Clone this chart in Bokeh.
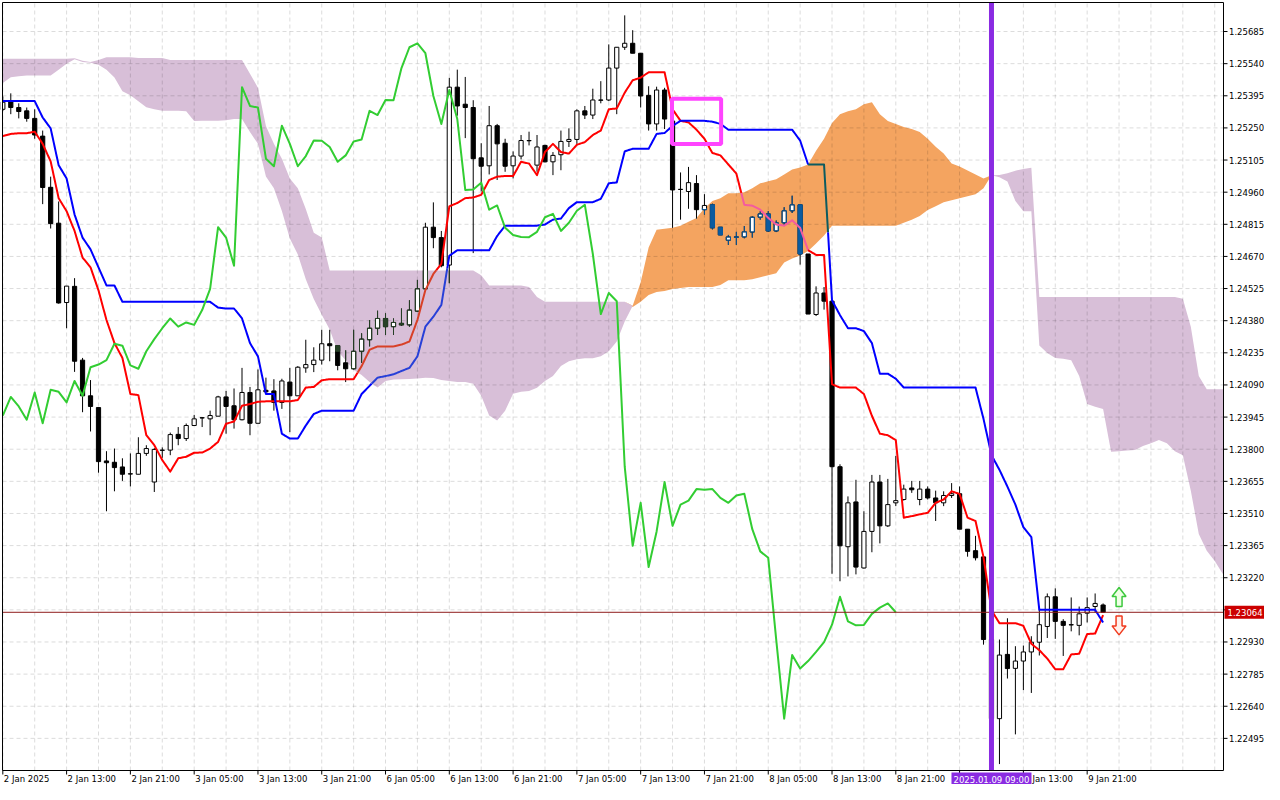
import numpy as np
from bokeh.plotting import figure
from bokeh.models import Range1d, ColumnDataSource
from bokeh.embed import file_html
from bokeh.resources import INLINE
from bokeh.core.properties import value

# ---------------- data (GBPUSD H1, bar index 0 = 2 Jan 2025 05:00) ----------------
OPEN = [1.25334, 1.25367, 1.25342, 1.25327, 1.25293, 1.25213, 1.24982, 1.24820, 1.24462, 1.24535,
        1.24202, 1.24041, 1.23988, 1.23747, 1.23741, 1.23720, 1.23689, 1.23687, 1.23781, 1.23652,
        1.23796, 1.23796, 1.23867, 1.23848, 1.23907, 1.23942, 1.23937, 1.23949, 1.24036, 1.23996,
        1.23933, 1.24056, 1.23917, 1.24066, 1.24063, 1.24011, 1.24103, 1.24041, 1.24167, 1.24182,
        1.24202, 1.24276, 1.24267, 1.24190, 1.24163, 1.24242, 1.24294, 1.24346, 1.24390, 1.24353,
        1.24368, 1.24361, 1.24423, 1.24524, 1.24802, 1.24755, 1.24631, 1.25434, 1.25357, 1.25342,
        1.25115, 1.25079, 1.25260, 1.25181, 1.25079, 1.25123, 1.25193, 1.25082, 1.25171, 1.25097,
        1.25129, 1.25189, 1.25198, 1.25327, 1.25308, 1.25376, 1.25376, 1.25520, 1.25614, 1.25632,
        1.25587, 1.25397, 1.25268, 1.25421, 1.25281, 1.24973, 1.24963, 1.24999, 1.24881, 1.24903,
        1.24802, 1.24743, 1.24758, 1.24758, 1.24780, 1.24847, 1.24862, 1.24785, 1.24822, 1.24876,
        1.24903, 1.24681, 1.24408, 1.24505, 1.24468, 1.23721, 1.23360, 1.23562, 1.23264, 1.23429,
        1.23652, 1.23454, 1.23558, 1.23573, 1.23625, 1.23573, 1.23620, 1.23580, 1.23558, 1.23591,
        1.23599, 1.23439, 1.23342, 1.23314, 1.22941, 1.22584, 1.22874, 1.22811, 1.22844, 1.22885,
        1.22929, 1.23000, 1.23134, 1.23023, 1.23008, 1.23005, 1.23060, 1.23090, 1.23097]
HIGH = [1.25392, 1.25406, 1.25361, 1.25342, 1.25334, 1.25238, 1.25030, 1.24918, 1.24536, 1.24572,
        1.24212, 1.24112, 1.23988, 1.23791, 1.23803, 1.23759, 1.23781, 1.23854, 1.23818, 1.23805,
        1.23808, 1.23875, 1.23900, 1.23916, 1.23955, 1.23944, 1.23974, 1.24041, 1.24063, 1.24074,
        1.24167, 1.24081, 1.24160, 1.24123, 1.24116, 1.24118, 1.24167, 1.24175, 1.24294, 1.24260,
        1.24339, 1.24339, 1.24267, 1.24246, 1.24339, 1.24323, 1.24383, 1.24425, 1.24413, 1.24390,
        1.24435, 1.24472, 1.24564, 1.24822, 1.24914, 1.24785, 1.25476, 1.25513, 1.25480, 1.25375,
        1.25181, 1.25349, 1.25268, 1.25201, 1.25144, 1.25218, 1.25233, 1.25218, 1.25174, 1.25141,
        1.25238, 1.25248, 1.25334, 1.25349, 1.25427, 1.25461, 1.25627, 1.25614, 1.25758, 1.25691,
        1.25587, 1.25438, 1.25436, 1.25431, 1.25290, 1.25049, 1.25074, 1.25037, 1.24951, 1.24908,
        1.24802, 1.24767, 1.24781, 1.24807, 1.24851, 1.24874, 1.24874, 1.24832, 1.24892, 1.24944,
        1.24903, 1.24681, 1.24535, 1.24532, 1.24472, 1.23732, 1.23587, 1.23662, 1.23520, 1.23684,
        1.23684, 1.23666, 1.23770, 1.23640, 1.23657, 1.23657, 1.23632, 1.23613, 1.23610, 1.23647,
        1.23632, 1.23439, 1.23409, 1.23314, 1.22948, 1.22941, 1.23037, 1.22911, 1.22914, 1.22956,
        1.23090, 1.23149, 1.23172, 1.23033, 1.23131, 1.23090, 1.23131, 1.23149, 1.23104]
LOW = [1.25326, 1.25312, 1.25293, 1.25278, 1.25201, 1.24906, 1.24796, 1.24457, 1.24346, 1.24149,
       1.23967, 1.23880, 1.23694, 1.23520, 1.23610, 1.23657, 1.23632, 1.23687, 1.23770, 1.23607,
       1.23761, 1.23773, 1.23818, 1.23837, 1.23907, 1.23900, 1.23863, 1.23949, 1.23870, 1.23893,
       1.23930, 1.23863, 1.23917, 1.24056, 1.23974, 1.23982, 1.23877, 1.24041, 1.24145, 1.24148,
       1.24182, 1.24197, 1.24156, 1.24103, 1.24160, 1.24190, 1.24264, 1.24316, 1.24316, 1.24316,
       1.24356, 1.24353, 1.24420, 1.24520, 1.24707, 1.24621, 1.24549, 1.25305, 1.25204, 1.24685,
       1.24963, 1.25040, 1.25015, 1.25052, 1.25022, 1.25108, 1.25171, 1.25052, 1.25094, 1.25037,
       1.25059, 1.25164, 1.25178, 1.25290, 1.25290, 1.25361, 1.25371, 1.25312, 1.25602, 1.25587,
       1.25342, 1.25238, 1.25238, 1.25245, 1.24799, 1.24836, 1.24885, 1.24841, 1.24859, 1.24792,
       1.24767, 1.24722, 1.24722, 1.24752, 1.24755, 1.24836, 1.24781, 1.24780, 1.24807, 1.24866,
       1.24633, 1.24410, 1.24401, 1.24430, 1.23238, 1.23204, 1.23226, 1.23235, 1.23261, 1.23335,
       1.23375, 1.23449, 1.23543, 1.23568, 1.23603, 1.23547, 1.23573, 1.23476, 1.23543, 1.23580,
       1.23439, 1.23315, 1.23298, 1.22918, 1.22547, 1.22379, 1.22765, 1.22513, 1.22713, 1.22700,
       1.22869, 1.22948, 1.22944, 1.22867, 1.22978, 1.22960, 1.23018, 1.23063, 1.23063]
CLOSE = [1.25366, 1.25342, 1.25324, 1.25293, 1.25218, 1.24981, 1.24818, 1.24460, 1.24536, 1.24197,
         1.24041, 1.23993, 1.23744, 1.23739, 1.23717, 1.23687, 1.23688, 1.23781, 1.23803, 1.23799,
         1.23795, 1.23866, 1.23848, 1.23907, 1.23937, 1.23941, 1.23952, 1.24036, 1.23993, 1.23933,
         1.24056, 1.23917, 1.24068, 1.24059, 1.24011, 1.24108, 1.24041, 1.24170, 1.24182, 1.24202,
         1.24276, 1.24267, 1.24178, 1.24163, 1.24242, 1.24297, 1.24346, 1.24390, 1.24353, 1.24372,
         1.24361, 1.24428, 1.24524, 1.24802, 1.24755, 1.24628, 1.25434, 1.25349, 1.25342, 1.25111,
         1.25077, 1.25260, 1.25178, 1.25077, 1.25123, 1.25193, 1.25192, 1.25164, 1.25097, 1.25126,
         1.25189, 1.25198, 1.25327, 1.25308, 1.25376, 1.25375, 1.25520, 1.25614, 1.25632, 1.25587,
         1.25394, 1.25268, 1.25421, 1.25290, 1.24970, 1.24972, 1.25003, 1.24881, 1.24900, 1.24799,
         1.24767, 1.24758, 1.24757, 1.24781, 1.24847, 1.24862, 1.24785, 1.24822, 1.24876, 1.24903,
         1.24681, 1.24410, 1.24505, 1.24468, 1.23721, 1.23364, 1.23558, 1.23268, 1.23429, 1.23652,
         1.23454, 1.23550, 1.23568, 1.23620, 1.23617, 1.23620, 1.23580, 1.23558, 1.23591, 1.23599,
         1.23439, 1.23339, 1.23310, 1.22941, 1.22584, 1.22871, 1.22810, 1.22844, 1.22885, 1.22929,
         1.23008, 1.23134, 1.23023, 1.23005, 1.23007, 1.23057, 1.23085, 1.23104, 1.23064]

TENKAN = [1.25213, 1.25223, 1.25226, 1.25226, 1.25233, 1.25178, 1.25099, 1.24933, 1.24874, 1.24785,
          1.24665, 1.24621, 1.24517, 1.24383, 1.24279, 1.24212, 1.24049, 1.24044, 1.23863, 1.23818,
          1.23751, 1.23699, 1.23759, 1.23766, 1.23784, 1.23785, 1.23803, 1.23833, 1.23915, 1.23925,
          1.23996, 1.24004, 1.24014, 1.24016, 1.24016, 1.24016, 1.24016, 1.24022, 1.24078, 1.24081,
          1.24111, 1.24116, 1.24116, 1.24116, 1.24116, 1.24175, 1.24249, 1.24264, 1.24264, 1.24264,
          1.24272, 1.24286, 1.24383, 1.24518, 1.24591, 1.24636, 1.24896, 1.24911, 1.24933, 1.24936,
          1.24948, 1.25015, 1.25030, 1.25033, 1.25033, 1.25097, 1.25089, 1.25037, 1.25141, 1.25178,
          1.25141, 1.25134, 1.25174, 1.25186, 1.25218, 1.25238, 1.25334, 1.25338, 1.25409, 1.25465,
          1.25477, 1.25501, 1.25501, 1.25501, 1.25334, 1.25282, 1.25275, 1.25242, 1.25201, 1.25137,
          1.25126, 1.25085, 1.25044, 1.24903, 1.24899, 1.24881, 1.24844, 1.24814, 1.24809, 1.24833,
          1.24799, 1.24698, 1.24677, 1.24677, 1.24093, 1.24078, 1.24078, 1.24078, 1.24049, 1.23951,
          1.23870, 1.23863, 1.23841, 1.23491, 1.23498, 1.23506, 1.23513, 1.23558, 1.23573, 1.23610,
          1.23598, 1.23491, 1.23476, 1.23313, 1.23073, 1.23015, 1.23015, 1.23015, 1.23003, 1.22922,
          1.22893, 1.22855, 1.22807, 1.22807, 1.22874, 1.22877, 1.22966, 1.22968, 1.23051]
KIJUN = [1.25371, 1.25371, 1.25371, 1.25371, 1.25371, 1.25297, 1.25248, 1.25082, 1.25022, 1.24859,
         1.24755, 1.24702, 1.24621, 1.24539, 1.24539, 1.24465, 1.24465, 1.24465, 1.24465, 1.24465,
         1.24465, 1.24465, 1.24465, 1.24465, 1.24465, 1.24465, 1.24465, 1.24439, 1.24435, 1.24435,
         1.24390, 1.24279, 1.24219, 1.24049, 1.24049, 1.23870, 1.23848, 1.23848, 1.23907, 1.23959,
         1.23974, 1.23974, 1.23974, 1.23974, 1.23974, 1.24049, 1.24086, 1.24123, 1.24130, 1.24138,
         1.24153, 1.24167, 1.24219, 1.24353, 1.24398, 1.24451, 1.24673, 1.24698, 1.24698, 1.24698,
         1.24698, 1.24698, 1.24762, 1.24809, 1.24809, 1.24809, 1.24809, 1.24809, 1.24814, 1.24836,
         1.24841, 1.24888, 1.24915, 1.24915, 1.24915, 1.24930, 1.25000, 1.25004, 1.25144, 1.25156,
         1.25156, 1.25156, 1.25223, 1.25227, 1.25259, 1.25282, 1.25282, 1.25282, 1.25282, 1.25278,
         1.25268, 1.25242, 1.25242, 1.25242, 1.25242, 1.25242, 1.25242, 1.25242, 1.25242, 1.25242,
         1.25193, 1.25085, 1.25085, 1.25085, 1.24472, 1.24405, 1.24346, 1.24346, 1.24333, 1.24279,
         1.24141, 1.24141, 1.24118, 1.24078, 1.24078, 1.24078, 1.24078, 1.24078, 1.24078, 1.24078,
         1.24078, 1.24078, 1.24078, 1.23937, 1.23773, 1.23707, 1.23631, 1.23550, 1.23448, 1.23403,
         1.23075, 1.23075, 1.23075, 1.23075, 1.23075, 1.23075, 1.23075, 1.23075, 1.23018]
# Senkou spans, already shifted 26 bars ahead (bars 0..154)
SPAN_A = [1.25453, 1.25479, 1.25483, 1.25486, 1.25487, 1.25487, 1.25487, 1.25513, 1.25540, 1.25560,
          1.25548, 1.25544, 1.25535, 1.25513, 1.25477, 1.25415, 1.25397, 1.25370, 1.25343, 1.25334,
          1.25327, 1.25327, 1.25327, 1.25325, 1.25281, 1.25282, 1.25282, 1.25282, 1.25285, 1.25290,
          1.25290, 1.25232, 1.25178, 1.25031, 1.24978, 1.24875, 1.24751, 1.24679, 1.24567, 1.24478,
          1.24407, 1.24340, 1.24242, 1.24202, 1.24157, 1.24135, 1.24103, 1.24078, 1.24108, 1.24115,
          1.24116, 1.24117, 1.24119, 1.24123, 1.24121, 1.24112, 1.24108, 1.24103, 1.24103, 1.24095,
          1.24041, 1.23952, 1.23930, 1.23974, 1.24050, 1.24059, 1.24063, 1.24077, 1.24108, 1.24130,
          1.24175, 1.24197, 1.24206, 1.24210, 1.24210, 1.24219, 1.24242, 1.24286, 1.24376, 1.24447,
          1.24554, 1.24710, 1.24790, 1.24795, 1.24799, 1.24808, 1.24826, 1.24844, 1.24888, 1.24920,
          1.24933, 1.24955, 1.24955, 1.24960, 1.24978, 1.25000, 1.25009, 1.25018, 1.25040, 1.25062,
          1.25071, 1.25085, 1.25147, 1.25201, 1.25272, 1.25312, 1.25325, 1.25334, 1.25357, 1.25366,
          1.25312, 1.25281, 1.25268, 1.25254, 1.25245, 1.25232, 1.25201, 1.25165, 1.25134, 1.25089,
          1.25076, 1.25058, 1.25040, 1.25022, 1.25036, 1.25027, 1.25008, 1.24920, 1.24874, 1.24874,
          1.24268, 1.24234, 1.24212, 1.24208, 1.24202, 1.24130, 1.24004, 1.23992, 1.23982, 1.23788,
          1.23791, 1.23794, 1.23796, 1.23814, 1.23827, 1.23841, 1.23827, 1.23791, 1.23773, 1.23613,
          1.23417, 1.23342, 1.23296, 1.23238, 1.23216]
SPAN_B = [1.25562, 1.25562, 1.25562, 1.25562, 1.25562, 1.25562, 1.25562, 1.25562, 1.25562, 1.25564,
          1.25553, 1.25548, 1.25557, 1.25569, 1.25569, 1.25569, 1.25569, 1.25565, 1.25565, 1.25565,
          1.25565, 1.25557, 1.25557, 1.25557, 1.25557, 1.25557, 1.25557, 1.25557, 1.25557, 1.25557,
          1.25557, 1.25495, 1.25431, 1.25259, 1.25178, 1.25111, 1.25022, 1.24978, 1.24884, 1.24777,
          1.24755, 1.24607, 1.24607, 1.24607, 1.24607, 1.24607, 1.24607, 1.24607, 1.24607, 1.24607,
          1.24607, 1.24607, 1.24607, 1.24607, 1.24607, 1.24607, 1.24607, 1.24607, 1.24607, 1.24607,
          1.24585, 1.24539, 1.24539, 1.24539, 1.24539, 1.24539, 1.24532, 1.24487, 1.24465, 1.24465,
          1.24465, 1.24465, 1.24465, 1.24465, 1.24465, 1.24465, 1.24465, 1.24465, 1.24465, 1.24442,
          1.24465, 1.24496, 1.24509, 1.24514, 1.24523, 1.24527, 1.24532, 1.24532, 1.24532, 1.24532,
          1.24541, 1.24562, 1.24562, 1.24562, 1.24567, 1.24576, 1.24585, 1.24594, 1.24643, 1.24661,
          1.24674, 1.24695, 1.24728, 1.24764, 1.24808, 1.24808, 1.24808, 1.24808, 1.24808, 1.24808,
          1.24808, 1.24808, 1.24808, 1.24822, 1.24835, 1.24853, 1.24880, 1.24897, 1.24915, 1.24924,
          1.24933, 1.24942, 1.24951, 1.24978, 1.25036, 1.25038, 1.25045, 1.25057, 1.25065, 1.25070,
          1.24487, 1.24487, 1.24487, 1.24487, 1.24487, 1.24487, 1.24487, 1.24487, 1.24487, 1.24487,
          1.24487, 1.24487, 1.24487, 1.24487, 1.24487, 1.24487, 1.24487, 1.24487, 1.24479, 1.24353,
          1.24130, 1.24071, 1.24071, 1.24071, 1.24071]
CHIKOU_SHIFT = 26

X_TICKS = [0, 8, 16, 24, 32, 40, 48, 56, 64, 72, 80, 88, 96, 104, 112, 120, 128, 136]
X_LABELS = ["2 Jan 2025", "2 Jan 13:00", "2 Jan 21:00", "3 Jan 05:00", "3 Jan 13:00", "3 Jan 21:00",
            "6 Jan 05:00", "6 Jan 13:00", "6 Jan 21:00", "7 Jan 05:00", "7 Jan 13:00", "7 Jan 21:00",
            "8 Jan 05:00", "8 Jan 13:00", "8 Jan 21:00", "9 Jan 05:00", "9 Jan 13:00", "9 Jan 21:00"]
X_GRID_STEP = 4
Y_TICKS = [1.22495, 1.22640, 1.22785, 1.22930, 1.23075, 1.23220, 1.23365, 1.23510, 1.23655, 1.23800,
           1.23945, 1.24090, 1.24235, 1.24380, 1.24525, 1.24670, 1.24815, 1.24960, 1.25105, 1.25250,
           1.25395, 1.25540, 1.25685]
LAST_PRICE = 1.23064
MARK_BAR = 124
MARK_LABEL = "2025.01.09 09:00"
MARK_BOX = dict(left=83.93, right=90.09, top=1.25382, bottom=1.25177)
UP_ARROW = (140, 1.23176)     # tip
DOWN_ARROW = (140, 1.22962)   # tip

# ---------------- layout / styling ----------------
FONT = "DejaVu Sans"
FS = "8.5px"
W, H = 1264, 784            # whole canvas
PAD = 2                     # plotting area starts 2px from the top-left corner
PW, PH = 1221, 768          # plotting area (pixels)
X_START, X_END = -0.04, 153.1
Y_START, Y_END = 1.22350, 1.25816
BPP = (X_END - X_START) / PW     # bars per pixel
PPP = (Y_END - Y_START) / PH     # price per pixel
XR0 = X_START - PAD * BPP
XR1 = XR0 + W * BPP
YR1 = Y_END + PAD * PPP
YR0 = YR1 - H * PPP
ORANGE = "#F4A460"
PURPLE = "#D8BFD8"
RED, BLUE, GREEN = "#FF0000", "#0000FF", "#32CD32"


def xor_col(c, fill):
    return "#%06X" % (int(c[1:], 16) ^ int(fill[1:], 16) ^ 0xFFFFFF)


p = figure(frame_width=W, frame_height=H, x_range=Range1d(XR0, XR1), y_range=Range1d(YR0, YR1),
           output_backend="svg", toolbar_location=None, x_axis_location=None, y_axis_location=None,
           min_border=0, background_fill_color="white", border_fill_color="white")
p.outline_line_color = None
p.grid.visible = False

# ---------------- Kumo ----------------
SA = np.array(SPAN_A)
SB = np.array(SPAN_B)
xc = np.arange(len(SA))
p.varea(x=xc, y1=SB, y2=np.maximum(SA, SB), fill_color=ORANGE, fill_alpha=1.0)
p.varea(x=xc, y1=SA, y2=np.maximum(SA, SB), fill_color=PURPLE, fill_alpha=1.0)

# ---------------- grid (dashed, drawn over the cloud) ----------------
gx = np.arange(0, X_END, X_GRID_STEP)
p.segment(x0=gx, y0=Y_START, x1=gx, y1=Y_END, line_color="black", line_alpha=0.14,
          line_dash="4 3", line_width=1)
gy = np.array(Y_TICKS)
p.segment(x0=X_START, y0=gy, x1=X_END, y1=gy, line_color="black", line_alpha=0.14,
          line_dash="4 3", line_width=1)

# ---------------- candles ----------------
O = np.array(OPEN); H_ = np.array(HIGH); L = np.array(LOW); C = np.array(CLOSE)
n = len(O)
x = np.arange(n)
lo = np.minimum(SA[:n], SB[:n])
hi = np.maximum(SA[:n], SB[:n])
inv = np.where(SA[:n] > SB[:n], xor_col("#000000", ORANGE), xor_col("#000000", PURPLE))
bw = 4.2 * BPP
hw = bw / 2
top = np.maximum(O, C)
bot = np.minimum(O, C)
bear = C < O
bull = ~bear

p.segment(x0=x, y0=H_, x1=x, y1=L, line_color="black", line_width=1)
wl = np.maximum(L, lo); wh = np.minimum(H_, hi); m = wh > wl
p.segment(x0=x[m], y0=wl[m], x1=x[m], y1=wh[m], line_color=inv[m].tolist(), line_width=1)

p.vbar(x=x[bear], width=bw, top=top[bear], bottom=bot[bear], fill_color="black", line_color="black", line_width=1)
p.vbar(x=x[bull], width=bw, top=top[bull], bottom=bot[bull], fill_color="white", line_color="black", line_width=1)

bl = np.maximum(bot, lo); bh = np.minimum(top, hi)
mb = bear & (bh > bl)
p.vbar(x=x[mb], width=bw, top=bh[mb], bottom=bl[mb], fill_color=inv[mb].tolist(),
       line_color=inv[mb].tolist(), line_width=1)
mh = bull & (bh > bl)
for side in (-hw, hw):
    p.segment(x0=x[mh] + side, y0=bl[mh], x1=x[mh] + side, y1=bh[mh], line_color=inv[mh].tolist(), line_width=1)
mt = bull & (top >= lo) & (top <= hi)
p.segment(x0=x[mt] - hw, y0=top[mt], x1=x[mt] + hw, y1=top[mt], line_color=inv[mt].tolist(), line_width=1)
mbt = bull & (bot >= lo) & (bot <= hi)
p.segment(x0=x[mbt] - hw, y0=bot[mbt], x1=x[mbt] + hw, y1=bot[mbt], line_color=inv[mbt].tolist(), line_width=1)


# ---------------- Tenkan / Kijun (XOR-tinted where they cross the cloud) ----------------
def runs(vals, base, sub=8):
    vals = np.asarray(vals)
    xs, ys, cols = [], [], []
    cx = cy = cc = None
    for k in range(len(vals) - 1):
        for j in range(sub):
            t0, t1 = j / sub, (j + 1) / sub
            y0 = vals[k] + (vals[k + 1] - vals[k]) * t0
            y1 = vals[k] + (vals[k + 1] - vals[k]) * t1
            tm = (t0 + t1) / 2
            ym = (y0 + y1) / 2
            am = SA[k] + (SA[k + 1] - SA[k]) * tm
            bm = SB[k] + (SB[k + 1] - SB[k]) * tm
            if min(am, bm) < ym < max(am, bm):
                c = xor_col(base, ORANGE if am > bm else PURPLE)
            else:
                c = base
            if c != cc:
                if cc is not None:
                    xs.append(cx); ys.append(cy); cols.append(cc)
                cx, cy, cc = [k + t0], [y0], c
            cx.append(k + t1); cy.append(y1)
    xs.append(cx); ys.append(cy); cols.append(cc)
    return ColumnDataSource(dict(xs=xs, ys=ys, color=cols))


p.multi_line(xs="xs", ys="ys", line_color="color", line_width=2, line_join="round", source=runs(TENKAN, RED))
p.multi_line(xs="xs", ys="ys", line_color="color", line_width=2, line_join="round", source=runs(KIJUN, BLUE))

# Chikou span = close plotted 26 bars back
chikou = C[CHIKOU_SHIFT:]
p.line(x=np.arange(len(chikou)), y=chikou, line_color=GREEN, line_width=2, line_join="round")

# ---------------- chart objects ----------------
p.segment(x0=X_START, y0=LAST_PRICE, x1=X_END, y1=LAST_PRICE, line_color="#8E1C1C", line_width=1)
p.quad(left=MARK_BOX["left"], right=MARK_BOX["right"], top=MARK_BOX["top"], bottom=MARK_BOX["bottom"],
       fill_color=None, line_color="#FF44FF", line_width=4)
p.segment(x0=MARK_BAR, y0=Y_START, x1=MARK_BAR, y1=Y_END, line_color="#8A2BE2", line_width=5)

up_shape = [(0, 0), (7, 9), (3, 9), (3, 19), (-3, 19), (-3, 9), (-7, 9)]
ux = [UP_ARROW[0] + dx * BPP for dx, dy in up_shape]
uy = [UP_ARROW[1] - dy * PPP for dx, dy in up_shape]
dxs = [DOWN_ARROW[0] + dx * BPP for dx, dy in up_shape]
dys = [DOWN_ARROW[1] + dy * PPP for dx, dy in up_shape]
p.patch(ux, uy, fill_color="#EFFFE6", line_color="#3DC83D", line_width=1.5)
p.patch(dxs, dys, fill_color="#FFF1EC", line_color="#F03A1E", line_width=1.5)

# ---------------- axes (MT5 style: price scale on the right, time scale below) ----------------
# mask everything outside the plotting area
p.quad(left=X_END, right=XR1, bottom=YR0, top=YR1, fill_color="white", line_color=None)
p.quad(left=XR0, right=X_END, bottom=YR0, top=Y_START, fill_color="white", line_color=None)
p.quad(left=XR0, right=XR1, bottom=Y_END, top=YR1, fill_color="white", line_color=None)
p.quad(left=XR0, right=X_START, bottom=YR0, top=YR1, fill_color="white", line_color=None)
# frame
p.quad(left=X_START, right=X_END, bottom=Y_START, top=Y_END, fill_color=None, line_color="black", line_width=1)

# price ticks and labels
p.segment(x0=X_END, y0=gy, x1=X_END + 4 * BPP, y1=gy, line_color="black", line_width=1)
p.text(x=X_END + 5.5 * BPP, y=gy, text=["%.5f" % v for v in Y_TICKS], text_font=value(FONT),
       text_font_size=value(FS), text_align="left", text_baseline="middle", text_color="black")

# time ticks and labels (left aligned at their tick)
tx = np.array(X_TICKS)
p.segment(x0=tx, y0=Y_START, x1=tx, y1=Y_START - 4 * PPP, line_color="black", line_width=1)
p.text(x=tx + 1 * BPP, y=Y_START - 3.5 * PPP, text=X_LABELS, text_font=value(FONT),
       text_font_size=value(FS), text_align="left", text_baseline="top", text_color="black")

# highlighted time of the vertical line
p.rect(x=MARK_BAR, y=Y_START - 9 * PPP, width=80 * BPP, height=14 * PPP,
       fill_color="#8A2BE2", line_color=None)
p.text(x=MARK_BAR, y=Y_START - 9 * PPP, text=[MARK_LABEL], text_font=value(FONT),
       text_font_size=value(FS), text_align="center", text_baseline="middle", text_color="white")

# last price tag
p.rect(x=X_END + 21 * BPP, y=LAST_PRICE, width=40 * BPP, height=13 * PPP,
       fill_color="#CC0000", line_color=None)
p.text(x=X_END + 4 * BPP, y=LAST_PRICE, text=["%.5f" % LAST_PRICE], text_font=value(FONT),
       text_font_size=value(FS), text_align="left", text_baseline="middle", text_color="white")

open("out.html", "w").write(file_html(p, INLINE))
